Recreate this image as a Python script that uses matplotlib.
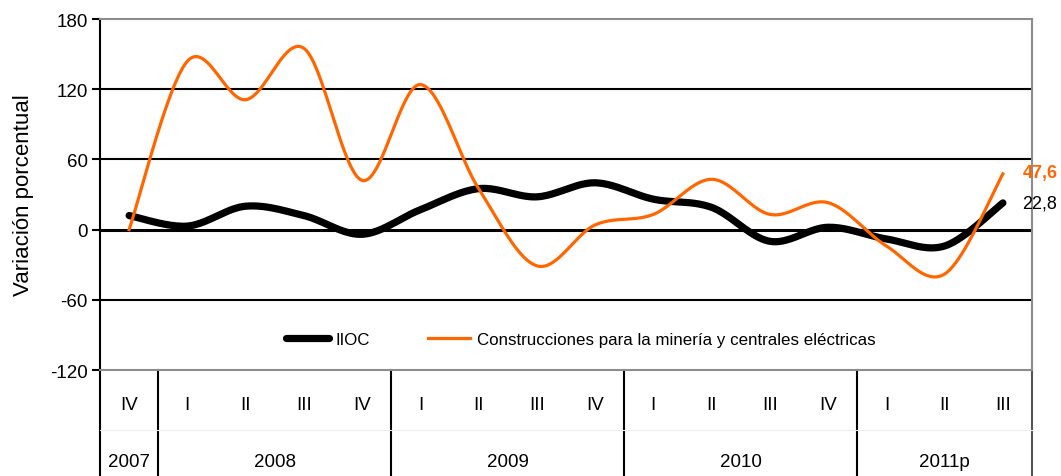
import numpy as np
import matplotlib
matplotlib.use("Agg")
import matplotlib.pyplot as plt

# quarterly periods
quarters = ["IV", "I", "II", "III", "IV", "I", "II", "III", "IV",
            "I", "II", "III", "IV", "I", "II", "III"]
years = ["2007", "2008", "2009", "2010", "2011p"]
year_counts = [1, 4, 4, 4, 3]

iioc = [12, 3, 20, 12, -4, 17, 35, 28, 40, 26, 19, -10, 2, -8, -14, 22.8]
mineria = [0, 144, 111, 155, 42, 124, 35, -31, 4, 13, 43, 13, 23, -14, -38, 47.6]

ORANGE = "#FF6600"

plt.rcParams["font.family"] = ["Liberation Sans", "DejaVu Sans"]
plt.rcParams["axes.unicode_minus"] = False


def smooth(xs, ys, n=24):
    # bezier smoothing through every point, like spreadsheet "smoothed line"
    xs = np.asarray(xs, float)
    ys = np.asarray(ys, float)
    px, py = [], []
    t = np.linspace(0, 1, n)
    for i in range(len(xs) - 1):
        i0, i3 = max(i - 1, 0), min(i + 2, len(xs) - 1)
        c1x = xs[i] + (xs[i + 1] - xs[i0]) / 6
        c1y = ys[i] + (ys[i + 1] - ys[i0]) / 6
        c2x = xs[i + 1] - (xs[i3] - xs[i]) / 6
        c2y = ys[i + 1] - (ys[i3] - ys[i]) / 6
        bx = ((1 - t) ** 3 * xs[i] + 3 * (1 - t) ** 2 * t * c1x
              + 3 * (1 - t) * t ** 2 * c2x + t ** 3 * xs[i + 1])
        by = ((1 - t) ** 3 * ys[i] + 3 * (1 - t) ** 2 * t * c1y
              + 3 * (1 - t) * t ** 2 * c2y + t ** 3 * ys[i + 1])
        px.extend(bx if i == 0 else bx[1:])
        py.extend(by if i == 0 else by[1:])
    return np.array(px), np.array(py)


fig = plt.figure(figsize=(10.61, 4.77), dpi=100)
ax = fig.add_axes([100 / 1061, 106 / 477, 932 / 1061, 351 / 477])

x = np.arange(len(quarters))
ax.set_xlim(-0.5, len(quarters) - 0.5)
ax.set_ylim(-120, 180)
ax.set_yticks(np.arange(-120, 181, 60))
ax.tick_params(axis="y", direction="out", length=6, width=1.5, labelsize=13.5, pad=3)
ax.set_xticks([])
ax.set_ylabel("Variación porcentual", fontsize=16, labelpad=11)

for v in (-60, 60, 120):
    ax.axhline(v, color="black", lw=1.5, zorder=1)
ax.axhline(0, color="black", lw=2.2, zorder=1)

for side in ("top", "right", "bottom"):
    ax.spines[side].set_color("#8c8c8c")
    ax.spines[side].set_linewidth(1.5)
ax.spines["left"].set_linewidth(1.5)

sx, sy = smooth(x, iioc)
ax.plot(sx, sy, color="black", lw=5.2, solid_capstyle="round", zorder=3, label="IIOC")
sx, sy = smooth(x, mineria)
ax.plot(sx, sy, color=ORANGE, lw=2.3, zorder=4,
        label="Construcciones para la minería y centrales eléctricas")

ax.annotate(f"{mineria[-1]:.1f}".replace(".", ","), (x[-1], mineria[-1]),
            xytext=(14, 1), textcoords="offset points", color=ORANGE,
            fontweight="bold", fontsize=13, va="center", annotation_clip=False)
ax.annotate(f"{iioc[-1]:.1f}".replace(".", ","), (x[-1], iioc[-1]),
            xytext=(14, 0), textcoords="offset points", color="black",
            fontsize=13, va="center", annotation_clip=False)

leg = ax.legend(loc="center", bbox_to_anchor=(0.516, 0.088), ncol=2, frameon=False,
                handlelength=2.5, columnspacing=3.4, handletextpad=0.4,
                prop={"size": 12.2})

# category table under the plot
tr = ax.get_xaxis_transform()
for i, q in enumerate(quarters):
    ax.text(i, -0.097, q, transform=tr, ha="center", va="center", fontsize=13.5)
edges = np.concatenate([[0], np.cumsum(year_counts)]) - 0.5
for j, yr in enumerate(years):
    mid = (edges[j] + edges[j + 1]) / 2
    ax.text(mid, -0.262, yr, transform=tr, ha="center", va="center", fontsize=13.5)
for k, e in enumerate(edges):
    ax.plot([e, e], [0, -0.31], transform=tr, color="black" if k < len(edges) - 1 else "#555555",
            lw=1.5, clip_on=False)
ax.plot([edges[0], edges[-1]], [-0.17, -0.17], transform=tr, color="#eeeeee",
        lw=0.8, clip_on=False)

fig.savefig("out.png", dpi=100)
